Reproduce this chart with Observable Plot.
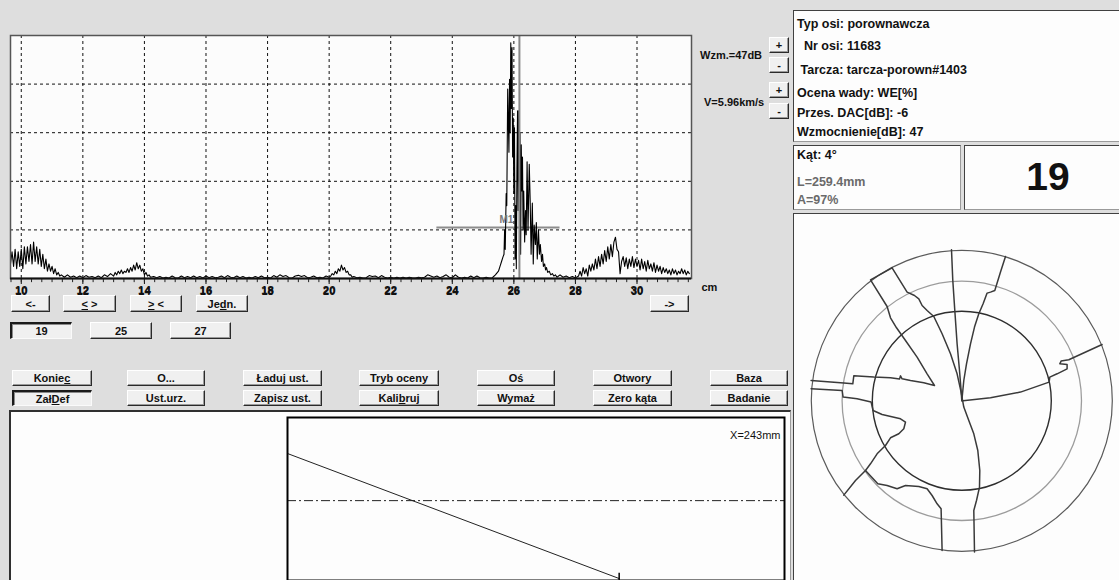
<!DOCTYPE html>
<html><head><meta charset="utf-8">
<script src="https://cdn.jsdelivr.net/npm/d3@7"></script>
<script src="https://cdn.jsdelivr.net/npm/@observablehq/plot@0.6"></script>
<style>
html,body{margin:0;padding:0;width:1119px;height:580px;overflow:hidden;background:#dedede;font-family:"Liberation Sans",Arial,sans-serif;}
#app{position:relative;width:1119px;height:580px;}
.abs{position:absolute;}
.btn{position:absolute;box-sizing:border-box;background:#f0f0f0;border-top:1px solid #fff;border-left:1px solid #fff;border-right:1px solid #2a2a2a;border-bottom:1px solid #2a2a2a;box-shadow:inset -1px -1px 0 #9a9a9a;font-weight:bold;font-size:11px;color:#111;display:flex;align-items:center;justify-content:center;white-space:pre;}
.btn.down{border-top:2px solid #1a1a1a;border-left:2px solid #1a1a1a;border-right:1px solid #fafafa;border-bottom:1px solid #fafafa;box-shadow:inset 1px 1px 0 #8a8a8a;}
.panel{position:absolute;box-sizing:border-box;background:#fdfdfd;border-top:1px solid #404040;border-left:1px solid #404040;border-right:1px solid #9a9a9a;border-bottom:1px solid #9a9a9a;}
.info{position:absolute;font-weight:bold;font-size:12.5px;color:#111;white-space:pre;}
.side{position:absolute;font-weight:bold;font-size:11px;color:#111;white-space:pre;}
</style></head>
<body><div id="app"></div>
<script>
// ---------- DATA ----------
const majorTicks = [10, 12, 14, 16, 18, 20, 22, 24, 26, 28, 30];
const gridAmp = [20, 40, 60, 80];
const unitLabel = "cm";
// A-scan echo trace: [position cm, amplitude %]
const nearField = [[9.65,6],[9.70,11],[9.75,5],[9.80,12],[9.85,4],[9.90,11],[9.95,5],[10.00,12],[10.05,4],[10.10,13],[10.15,6],[10.20,13],[10.25,7],[10.30,14],[10.35,6],[10.40,15],[10.45,7],[10.50,13],[10.55,6],[10.60,12],[10.65,5],[10.70,10],[10.75,4],[10.80,8],[10.85,3],[10.90,6],[10.95,3],[11.00,5],[11.05,2],[11.10,4],[11.15,1.5],[11.20,2.5],[11.25,1],[11.30,1.5]];
const noiseA = [[11.4,0.5],[11.5,1.5],[11.6,0.5],[11.7,1],[11.8,0.3],[11.9,1],[12.0,0.3],[12.1,1.2],[12.2,0.5],[12.3,0.8],[12.4,0.3],[12.5,1],[12.6,0.3],[12.7,1.5],[12.8,0.8],[12.9,2]];
const echo13 = [[13.0,1],[13.05,2.5],[13.1,1.5],[13.15,3],[13.2,2],[13.25,3.5],[13.3,2],[13.35,3],[13.4,2.5],[13.45,4],[13.5,2.5],[13.55,4.5],[13.6,3],[13.65,5.5],[13.7,3.5],[13.75,6.5],[13.8,4],[13.85,5.5],[13.9,3],[13.95,4],[14.0,1.5],[14.05,2.5],[14.1,1],[14.15,1.5],[14.2,0.5],[14.3,0.8]];
const noiseB = [[14.4,0.3],[14.5,0.8],[14.6,0.2],[14.7,0.5],[14.8,0.2],[14.9,1],[15.0,0.3],[15.1,0.2],[15.2,1],[15.3,0.3],[15.4,0.8],[15.5,0.3],[15.6,1],[15.7,0.3],[15.8,0.8],[15.9,0.2],[16.0,1],[16.1,0.3],[16.2,0.8],[16.3,0.3],[16.4,0.5],[16.5,1],[16.6,0.3],[16.7,1.2],[16.8,0.5],[16.9,0.3],[17.0,1],[17.1,0.3],[17.2,0.8],[17.3,0.2],[17.4,0.5],[17.5,0.2],[17.6,0.8],[17.7,0.3],[17.8,1],[17.9,0.3],[18.0,0.5],[18.1,0.2],[18.2,1.2],[18.3,0.5],[18.4,1.5],[18.5,0.8],[18.6,1.2],[18.7,0.3],[18.8,0.2],[18.9,1],[19.0,1.3],[19.1,0.8],[19.2,1.2],[19.3,0.3],[19.4,0.5],[19.5,1],[19.6,0.3],[19.7,0.5],[19.8,0.2],[19.9,1],[20.0,0.5]];
const echo20 = [[20.05,1],[20.1,2],[20.15,1.5],[20.2,3],[20.25,2],[20.3,4],[20.35,3],[20.4,5.5],[20.45,3.5],[20.5,4.5],[20.55,2.5],[20.6,3],[20.65,1.5],[20.7,1.5],[20.75,0.5],[20.8,0.8]];
const noiseC = [[20.9,0.3],[21.0,0.5],[21.1,0.2],[21.2,0.3],[21.3,1.2],[21.4,0.8],[21.5,1],[21.6,0.3],[21.7,1.2],[21.8,0.5],[21.9,0.2],[22.0,0.5],[22.1,0.2],[22.2,0.5],[22.3,0.2],[22.4,0.5],[22.5,0.2],[22.6,0.5],[22.7,0.3],[22.8,0.2],[22.9,0.5],[23.0,0.3],[23.1,0.5],[23.2,1.5],[23.3,1],[23.4,0.5],[23.5,1],[23.6,0.3],[23.7,0.8],[23.8,1.5],[23.9,0.5],[24.0,0.3],[24.1,1.5],[24.2,0.5],[24.3,0.2],[24.4,0.5],[24.5,0.2],[24.6,1],[24.7,0.3],[24.8,1],[24.9,0.3],[25.0,0.2],[25.1,0.5],[25.2,0.2],[25.3,0.3],[25.4,1.5],[25.5,3]];
const mainEcho = [[25.55,5],[25.6,7],[25.65,9],[25.68,10],[25.7,20],[25.72,12],[25.75,35],[25.77,30],[25.8,78],[25.82,65],[25.84,52],[25.86,82],[25.88,60],[25.9,97],[25.92,70],[25.94,95],[25.96,50],[25.98,66],[26.0,35],[26.02,62],[26.04,8],[26.06,30],[26.08,4],[26.1,45],[26.12,69],[26.14,28],[26.16,69],[26.18,40],[26.2,60],[26.22,10],[26.24,55],[26.26,36],[26.28,50],[26.3,20],[26.32,36],[26.35,15],[26.38,28],[26.4,18],[26.43,48],[26.46,20],[26.5,47],[26.53,32],[26.56,10],[26.6,31],[26.63,6],[26.66,22],[26.7,14],[26.73,23],[26.76,8],[26.8,20],[26.83,10],[26.86,14],[26.9,7],[26.93,10],[26.96,5],[27.0,6],[27.03,3.5],[27.06,4.5],[27.1,2.5],[27.15,3],[27.2,1.5],[27.25,2],[27.3,1],[27.35,1.5],[27.4,0.5]];
const noiseD = [[27.5,1.5],[27.6,0.5],[27.7,1],[27.8,0.3],[27.9,0.8],[28.0,0.2],[28.1,1]];
const backEcho = [[28.15,3],[28.2,1],[28.25,4.5],[28.3,2],[28.35,4],[28.4,1],[28.45,5.5],[28.5,3],[28.55,6],[28.6,3.5],[28.65,8],[28.7,4],[28.75,9],[28.8,5],[28.85,10],[28.9,6],[28.95,11.5],[29.0,7],[29.05,13],[29.1,8],[29.15,14],[29.2,9],[29.25,15],[29.3,17],[29.35,12],[29.4,11],[29.45,2],[29.5,7],[29.55,9],[29.6,5],[29.65,8.5],[29.7,4],[29.75,8],[29.8,5],[29.85,9],[29.9,4.5],[29.95,8],[30.0,5],[30.05,7.5],[30.1,3.5],[30.15,8],[30.2,4],[30.25,7],[30.3,3],[30.35,7.5],[30.4,4],[30.45,6],[30.5,3],[30.55,6.5],[30.6,2.5],[30.65,5.5],[30.7,3],[30.75,5],[30.8,2],[30.85,4.5],[30.9,2.5],[30.95,4],[31.0,2],[31.05,3.5],[31.1,1.5],[31.15,4],[31.2,2],[31.25,3.5],[31.3,1.5],[31.35,3],[31.4,2],[31.45,4],[31.5,2],[31.55,3.5],[31.6,1.5],[31.65,3],[31.7,2]];
const gateSpan = [23.5, 27.5];
const gateLevel = 21;
const gateName = "M1";
const cursorPos = 26.18;

const gainText = "Wzm.=47dB";
const velocityText = "V=5.96km/s";
const navLabels = ["<-", "<u>&lt;</u> &gt;", "<u>&gt;</u> &lt;", "Je<u>d</u>n.", "->"];
const channelLabels = ["19", "25", "27"];
const menuRowA = ["Konie<u>c</u>", "O...", "Ładuj ust.", "Tryb oceny", "Oś", "Otwory", "Baza"];
const menuRowB = ["Zał<u>D</u>ef", "Ust.urz.", "Zapisz ust.", "Kali<u>b</u>ruj", "Wymaż", "Zero kąta", "Badanie"];
const infoLines = ["Typ osi: porownawcza", "  Nr osi: 11683", " Tarcza: tarcza-porown#1403", "Ocena wady: WE[%]", "Przes. DAC[dB]: -6", "Wzmocnienie[dB]: 47"];
const angleText = "Kąt: 4°";
const measureLines = ["L=259.4mm", "A=97%"];
const channelNumber = "19";

// disc map: ring radii and crack traces (offsets from disc centre)
const ringRadii = [150.5, 119.7, 89.5];
const crackTop = [[-10.3,-151],[-9,-120.3],[-7,-90.3],[-4.7,-57],[-2.3,-30.3],[-0.7,-10.3],[0,0]];
const crackTopRight = [[43.7,-144.3],[38.7,-128.7],[33,-110.3],[28.7,-108.7],[25.3,-107.7],[21.3,-97],[17,-87],[12.7,-73.7],[8.7,-57],[4.7,-37],[2,-20.3],[0.7,-7],[0,0]];
const crackRight = [[1.3,0],[28.7,-3],[58.7,-8.7],[87.3,-18.7],[88,-23.7],[95.3,-27],[105.3,-32],[105.3,-36.3],[98,-37],[99.3,-39.7],[107,-41],[140.3,-56.3]];
const crackMain = [[-69.7,-133],[-54.7,-108.7],[-47.3,-105.3],[-43,-102],[-39.7,-95.3],[-34.7,-90.3],[-28,-84.3],[-19.7,-67],[-11.3,-47],[-4.7,-27],[-0.7,-8.7],[2,6.3],[7,19.7],[12,33],[16,49.7],[18,69.7],[17.7,86.3],[14.7,99.7],[12,109.7],[12.7,151.3]];
const crackWedge = [[-69.7,-133],[-91.3,-121],[-74.7,-94.3],[-71.3,-83],[-65.3,-73],[-56.3,-60.3],[-44.7,-43.7],[-34.7,-27],[-27.3,-15.3],[-31.3,-16.3],[-38,-18],[-51.3,-20.3],[-59.7,-22],[-61.3,-25],[-62.3,-21.7],[-71.3,-23],[-88,-23.7],[-108,-25],[-109,-17],[-118,-17.7],[-150.7,-20.3]];
const crackLeft = [[-150.7,-12],[-119.7,-10.3],[-118.7,-3.7],[-104.7,-2],[-90.7,1.3],[-88.7,9.7],[-79.7,13.7],[-61.3,18],[-56.3,21.3],[-58,28],[-63,33],[-71.3,37],[-76.3,44.7],[-84.7,53],[-91.3,63],[-96.3,69.7],[-106.3,79.7],[-118,94.3]];
const crackBottom = [[-96.3,69.7],[-84,83],[-74.7,84.7],[-64.7,88],[-56.3,84.7],[-43,85.7],[-34.7,88],[-29.7,94.7],[-24.7,103],[-20.7,108],[-19.7,149.7]];

// bottom profile view
const pathX = [0, 200.2];
const pathY = [77.9, 1.2];
const axisLevel = 49;
const markerX = 200.2;
const positionText = "X=243mm";

// ---------- LAYOUT ----------
const app = document.getElementById("app");
function el(cls, css, html) {
  const d = document.createElement("div");
  d.className = cls;
  Object.assign(d.style, css);
  if (html != null) d.innerHTML = html;
  app.appendChild(d);
  return d;
}
function btn(label, x1, x2, y1, y2, down) {
  el("btn" + (down ? " down" : ""), {left: x1 + "px", top: y1 + "px", width: (x2 - x1) + "px", height: (y2 - y1) + "px"}, label);
}

// --- A-scan chart ---
const scan = [nearField, noiseA, echo13, noiseB, echo20, noiseC, mainEcho, noiseD, backEcho].flat().map(([x, a]) => ({x, a}));
const minorTicks = d3.range(10 - 1 / 3, 31.7, 1 / 3);
const ascan = Plot.plot({
  width: 720, height: 300,
  marginLeft: 10, marginRight: 29, marginTop: 35, marginBottom: 22,
  x: {domain: [9.65, 31.77], label: null},
  y: {domain: [0, 100], axis: null, label: null},
  style: {background: "transparent", overflow: "visible", fontFamily: "Liberation Sans, Arial, sans-serif", fontSize: "11px", fontWeight: "bold", color: "#111"},
  marks: [
    Plot.frame({fill: "#fcfcfc", stroke: null}),
    Plot.ruleX(majorTicks, {stroke: "#111", strokeWidth: 1, strokeDasharray: "3,3"}),
    Plot.ruleY(gridAmp, {stroke: "#111", strokeWidth: 1, strokeDasharray: "3,3"}),
    Plot.ruleX(minorTicks, {y1: 0, y2: -1.7, stroke: "#222"}),
    Plot.text(majorTicks, {x: d => d, y: 0, dy: 12, text: d => String(d), fontWeight: "bold", fontSize: 11.5}),
    Plot.text([unitLabel], {frameAnchor: "bottom-right", dx: 10, dy: 12, textAnchor: "start", fontWeight: "bold", fontSize: 11}),
    Plot.ruleY([gateLevel], {x1: gateSpan[0], x2: gateSpan[1], stroke: "#8c8c8c", strokeWidth: 2}),
    Plot.line(scan, {x: "x", y: "a", stroke: "#000", strokeWidth: 1.1}),
    Plot.ruleX([cursorPos], {stroke: "#888", strokeWidth: 2}),
    Plot.text([gateName], {x: 25.76, y: gateLevel, dy: -8, textAnchor: "middle", fill: "#777", fontWeight: "bold", fontSize: 10}),
    Plot.frame({stroke: "#555", strokeWidth: 1.5}),
    Plot.ruleY([0], {stroke: "#111", strokeWidth: 2})
  ]
});
const aw = el("abs", {left: "0px", top: "0px"});
aw.appendChild(ascan);

// nav buttons
const navPos = [[11, 50], [63, 116], [130, 182], [196, 248], [650, 689]];
navLabels.forEach((t, i) => btn(t, navPos[i][0], navPos[i][1], 295, 312));
const chPos = [[10, 72], [90, 152], [170, 231]];
channelLabels.forEach((t, i) => btn(t, chPos[i][0], chPos[i][1], 322, 339, i === 0));

// gain / velocity
el("side", {left: "700px", top: "49px"}, gainText);
el("side", {left: "704px", top: "96px"}, velocityText);
btn("+", 769, 789, 37, 53); btn("-", 769, 789, 57, 73);
btn("+", 769, 789, 82, 98); btn("-", 769, 789, 103, 119);

// menu buttons
const colPos = [[12, 92], [127, 205], [243, 322], [359, 439], [477, 555], [593, 672], [710, 788]];
menuRowA.forEach((t, i) => btn(t, colPos[i][0], colPos[i][1], 370, 386));
menuRowB.forEach((t, i) => btn(t, colPos[i][0], colPos[i][1], 390, 406, i === 0));

// right info panels
const p1 = el("panel", {left: "793px", top: "10px", width: "330px", height: "132px"});
const infoTops = [6, 28, 52, 75, 95, 114];
infoLines.forEach((t, i) => {
  const d = document.createElement("div");
  d.className = "info"; d.style.left = "3px"; d.style.top = infoTops[i] + "px"; d.textContent = t;
  p1.appendChild(d);
});
const p2 = el("panel", {left: "793px", top: "145px", width: "168px", height: "65px"});
const k = document.createElement("div"); k.className = "info"; k.style.left = "3px"; k.style.top = "2px"; k.textContent = angleText; p2.appendChild(k);
measureLines.forEach((t, i) => {
  const d = document.createElement("div");
  d.className = "info"; d.style.left = "3px"; d.style.top = (29 + i * 18) + "px"; d.style.color = "#6a6a6a"; d.textContent = t;
  p2.appendChild(d);
});
const p3 = el("panel", {left: "964px", top: "145px", width: "160px", height: "65px"});
const big = document.createElement("div");
Object.assign(big.style, {position: "absolute", left: "0", top: "9px", width: "166px", textAlign: "center", fontWeight: "bold", fontSize: "39px", color: "#111", lineHeight: "44px"});
big.textContent = channelNumber; p3.appendChild(big);

// disc map panel
const p4 = el("panel", {left: "793px", top: "213px", width: "330px", height: "370px"});
const cracks = [crackTop, crackTopRight, crackRight, crackMain, crackWedge, crackLeft, crackBottom]
  .flatMap((c, id) => c.map(([x, y]) => ({x, y, id})));
const ringStroke = ["#5a5a5a", "#9c9c9c", "#2e2e2e"];
const ringWidth = [1.2, 1.3, 1.4];
const disc = Plot.plot({
  width: 326, height: 367, margin: 0,
  x: {domain: [-167.3, 158.7], range: [0, 326], axis: null},
  y: {domain: [-186.3, 180.7], range: [0, 367], axis: null},
  style: {background: "transparent", overflow: "visible"},
  marks: [
    ...ringRadii.map((r, i) => Plot.dot([r], {x: 0, y: 0, r, stroke: ringStroke[i], strokeWidth: ringWidth[i], fill: "none"})),
    Plot.line(cracks, {x: "x", y: "y", z: "id", stroke: "#3a3a3a", strokeWidth: 1.5, curve: "linear"})
  ]
});
const dw = document.createElement("div"); dw.style.position = "absolute"; dw.style.left = "0"; dw.style.top = "0";
dw.appendChild(disc); p4.appendChild(dw);

// bottom profile panel
const p5 = el("panel", {left: "9px", top: "410px", width: "782px", height: "180px", borderTop: "2px solid #303030", borderLeft: "2px solid #303030"});
const profile = Plot.plot({
  width: 499, height: 176, marginTop: 1, marginLeft: 1, marginRight: 1, marginBottom: 12,
  x: {domain: [0, 300], axis: null},
  y: {domain: [0, 100], axis: null},
  style: {background: "#fdfdfd", overflow: "visible", fontFamily: "Liberation Sans, Arial, sans-serif"},
  marks: [
    Plot.ruleY([axisLevel], {stroke: "#222", strokeWidth: 1, strokeDasharray: "9,3,2,3"}),
    Plot.line(pathX.map((x, i) => ({x, y: pathY[i]})), {x: "x", y: "y", stroke: "#222", strokeWidth: 1}),
    Plot.ruleX([markerX], {y1: 0, y2: 4.5, stroke: "#000", strokeWidth: 1.5}),
    Plot.text([positionText], {frameAnchor: "top-right", dx: -4, dy: 14, fontSize: 11, fill: "#111"}),
    Plot.frame({stroke: "#000", strokeWidth: 2})
  ]
});
const pw = el("abs", {left: "286px", top: "416px"});
pw.appendChild(profile);
</script>
</body></html>
